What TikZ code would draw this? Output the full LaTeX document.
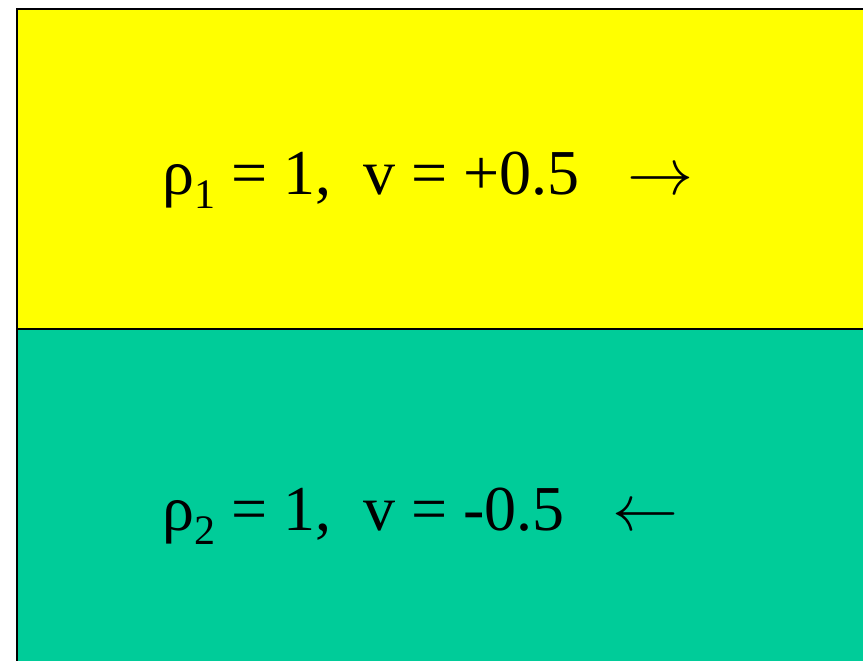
\documentclass[tikz,border=0pt]{standalone}
\usepackage{fontspec}
\setmainfont{Liberation Serif}
\usepackage{graphicx}
\usepackage{xcolor}
\definecolor{flowyellow}{RGB}{255,255,0}
\definecolor{flowgreen}{RGB}{0,204,153}
\newcommand{\lsub}[1]{\raisebox{-14pt}{\fontsize{42}{42}\selectfont #1}}
\newcommand{\larr}[1]{\resizebox{66pt}{!}{$#1$}}

\begin{document}
\begin{tikzpicture}[x=1pt,y=-1pt,
  layer/.style={rectangle,draw,line width=2pt,inner sep=0pt,anchor=north west},
  lbl/.style={anchor=base west,inner sep=0pt,font=\fontsize{64}{72}\selectfont}]
  \useasboundingbox (0,0) rectangle (863,661);
  % upper fluid
  \node[layer,fill=flowyellow,minimum width=880pt,minimum height=320pt] (up) at (16,8) {};
  % lower fluid
  \node[layer,fill=flowgreen,minimum width=880pt,minimum height=360pt] (dn) at (16,328) {};
  \node[lbl] (l1) at (162,194) {ρ\lsub{1} = 1,\ \ v = +0.5\ \ \ \larr{\rightarrow}};
  \node[lbl] (l2) at (162,530) {ρ\lsub{2} = 1,\ \ v = -0.5\ \ \ \larr{\leftarrow}};
\end{tikzpicture}
\end{document}
